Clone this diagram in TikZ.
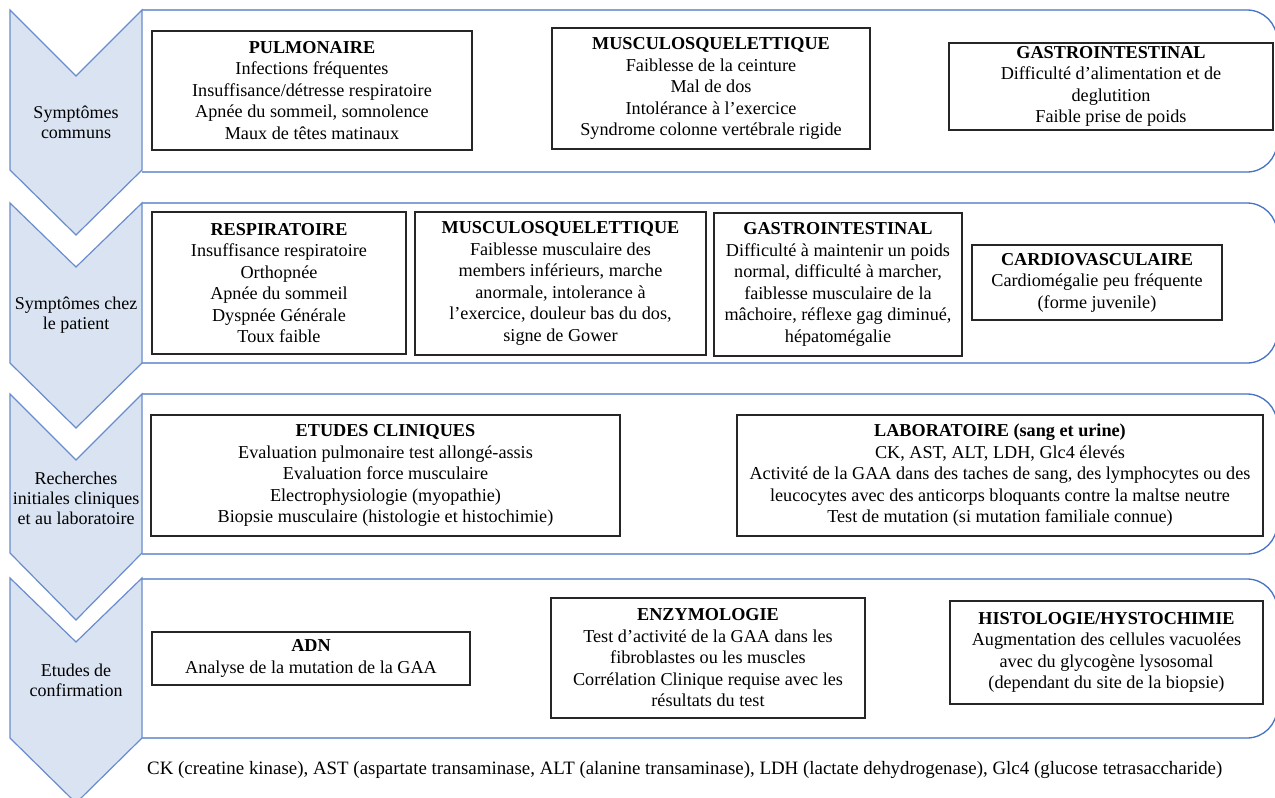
\documentclass[tikz,border=0pt]{standalone}
\usepackage{fontspec}
\setmainfont{Liberation Serif}
\definecolor{bandblue}{RGB}{68,114,196}
\definecolor{chevfill}{RGB}{218,227,242}
\definecolor{chevline}{RGB}{105,140,205}
\begin{document}
\begin{tikzpicture}[x=1pt,y=-1pt,
  chev/.style={fill=chevfill,draw=chevline,line width=1.2pt,line join=miter},
  band/.style={draw=bandblue,line width=1.3pt,rounded corners=30pt},
  box/.style={draw=black!85,line width=1.4pt,fill=white,align=center,inner sep=2pt,font=\fontsize{18.2}{21.5}\selectfont},
  lab/.style={align=center,inner sep=0pt,font=\fontsize{18}{20}\selectfont},
]
\useasboundingbox (0,0) rectangle (1275,798);
\clip (0,0) rectangle (1275,798);
\fill[white] (0,0) rectangle (1275,798);

% bands
\draw[band] (142,10) -- (1277,10) -- (1277,172) -- (142,172);
\draw[band] (142,203) -- (1277,203) -- (1277,363) -- (142,363);
\draw[band] (142,394) -- (1277,394) -- (1277,554) -- (142,554);
\draw[band] (142,579) -- (1277,579) -- (1277,738) -- (142,738);

% chevrons
\draw[chev] (10,10) -- (76,76) -- (142,10) -- (142,170) -- (76,235) -- (10,170) -- cycle;
\draw[chev] (10,203) -- (76,267) -- (142,203) -- (142,363) -- (76,428) -- (10,363) -- cycle;
\draw[chev] (10,394) -- (76,460) -- (142,394) -- (142,553) -- (76,620) -- (10,553) -- cycle;
\draw[chev] (10,578) -- (76,642) -- (142,578) -- (142,738) -- (76,803) -- (10,738) -- cycle;

\node[lab] (c1) at (76,122) {Symptômes\\communs};
\node[lab] (c2) at (76,315) {Symptômes chez\\le patient};
\node[lab] (c3) at (76,498) {Recherches\\initiales cliniques\\et au laboratoire};
\node[lab] (c4) at (76,680) {Etudes de\\confirmation};

% row 1
\node[box,minimum width=320pt,minimum height=119pt] (pulm) at (312,90.5)
 {\textbf{PULMONAIRE}\\Infections fréquentes\\Insuffisance/détresse respiratoire\\Apnée du sommeil, somnolence\\Maux de têtes matinaux};
\node[box,minimum width=318pt,minimum height=121pt] (musc1) at (711,88.5)
 {\textbf{MUSCULOSQUELETTIQUE}\\Faiblesse de la ceinture\\Mal de dos\\Intolérance à l’exercice\\Syndrome colonne vertébrale rigide};
\node[box,minimum width=324pt,minimum height=87pt] (gast1) at (1111,86.5)
 {\textbf{GASTROINTESTINAL}\\Difficulté d’alimentation et de\\deglutition\\Faible prise de poids};

% row 2
\node[box,minimum width=254pt,minimum height=142pt] (resp) at (279,283)
 {\textbf{RESPIRATOIRE}\\Insuffisance respiratoire\\Orthopnée\\Apnée du sommeil\\Dyspnée Générale\\Toux faible};
\node[box,minimum width=291pt,minimum height=143pt] (musc2) at (560.5,283.5)
 {\textbf{MUSCULOSQUELETTIQUE}\\Faiblesse musculaire des\\members inférieurs, marche\\anormale, intolerance à\\l’exercice, douleur bas du dos,\\signe de Gower};
\node[box,minimum width=248pt,minimum height=143pt] (gast2) at (838,284.5)
 {\textbf{GASTROINTESTINAL}\\Difficulté à maintenir un poids\\normal, difficulté à marcher,\\faiblesse musculaire de la\\mâchoire, réflexe gag diminué,\\hépatomégalie};
\node[box,minimum width=250pt,minimum height=75pt] (cardio) at (1097,282.5)
 {\textbf{CARDIOVASCULAIRE}\\Cardiomégalie peu fréquente\\(forme juvenile)};

% row 3
\node[box,minimum width=469pt,minimum height=121pt] (etud) at (385.5,475.5)
 {\textbf{ETUDES CLINIQUES}\\Evaluation pulmonaire test allongé-assis\\Evaluation force musculaire\\Electrophysiologie (myopathie)\\Biopsie musculaire (histologie et histochimie)};
\node[box,minimum width=526pt,minimum height=121pt] (labo) at (1000,475.5)
 {\textbf{LABORATOIRE (sang et urine)}\\CK, AST, ALT, LDH, Glc4 élevés\\Activité de la GAA dans des taches de sang, des lymphocytes ou des\\leucocytes avec des anticorps bloquants contre la maltse neutre\\Test de mutation (si mutation familiale connue)};

% row 4
\node[box,minimum width=318pt,minimum height=53pt] (adn) at (311,658.5)
 {\textbf{ADN}\\Analyse de la mutation de la GAA};
\node[box,minimum width=314pt,minimum height=120pt] (enzy) at (708,658)
 {\textbf{ENZYMOLOGIE}\\Test d’activité de la GAA dans les\\fibroblastes ou les muscles\\Corrélation Clinique requise avec les\\résultats du test};
\node[box,minimum width=313pt,minimum height=103pt] (hist) at (1106.5,652.5)
 {\textbf{HISTOLOGIE/HYSTOCHIMIE}\\Augmentation des cellules vacuolées\\avec du glycogène lysosomal\\(dependant du site de la biopsie)};

% footnote
\node[anchor=west,inner sep=0pt,font=\fontsize{18.9}{21}\selectfont] (note) at (147,770)
 {CK (creatine kinase), AST (aspartate transaminase, ALT (alanine transaminase), LDH (lactate dehydrogenase), Glc4 (glucose tetrasaccharide)};
\end{tikzpicture}
\end{document}
